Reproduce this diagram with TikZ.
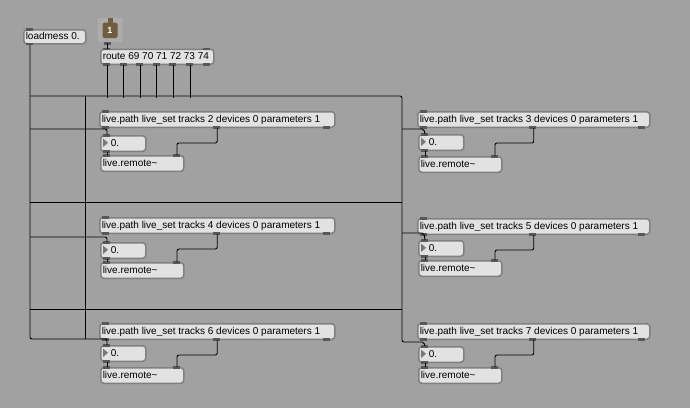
\documentclass[tikz,border=0pt]{standalone}
\usepackage{fontspec}
\setmainfont{Liberation Sans}
\usetikzlibrary{calc}
\definecolor{bg}{RGB}{161,161,161}
\definecolor{boxfill}{RGB}{226,226,226}
\definecolor{boxedge}{RGB}{128,128,128}
\definecolor{tabc}{RGB}{88,88,88}
\definecolor{brownbox}{RGB}{112,93,64}
\definecolor{tileback}{RGB}{172,172,172}
\definecolor{tri}{RGB}{120,120,120}
\tikzset{
  obj/.style={draw=boxedge, fill=boxfill, line width=1.5pt, rounded corners=3pt,
    inner xsep=2pt, inner ysep=0pt, anchor=north west,
    font=\fontsize{10}{11}\selectfont, text height=7.5pt, text depth=2pt},
  cord/.style={black, line width=0.9pt, rounded corners=2pt},
  tab/.style={fill=tabc}
}
% \mxobj{name}{x}{y}{width}{height}{text}
\newcommand\mxobj[6]{%
  \pgfmathsetmacro\tw{#4-4}%
  \node[obj, minimum height=#5pt] (#1) at (#2,#3) {\makebox[\tw pt][l]{#6}};}
\newcommand\mxin[2]{\fill[tab] ($(#1.north west)+(#2,-0.8)$) rectangle +(7,2.6);}
\newcommand\mxout[2]{\fill[tab] ($(#1.south west)+(#2,0.8)$) rectangle +(7,-2.6);}
\begin{document}
\begin{tikzpicture}[x=1pt,y=-1pt]
\fill[bg] (0,0) rectangle (690,408);
\useasboundingbox (0,0) rectangle (690,408);

\coordinate (a) at (30,96);
\coordinate (b) at (402,96);
% ---------- objects ----------
\mxobj{lm}{23}{29}{62}{14}{loadmess 0.}
\node[fill=tileback, rounded corners=2pt, minimum width=25pt, minimum height=24pt, anchor=north west] (tile) at (97.5,18) {};
\fill[brownbox, rounded corners=1.5pt] (102.5,22.5) rectangle (117.5,38);
\fill[brownbox] (107.5,17.5) rectangle (112.5,23);
\node[text=white, font=\fontsize{9}{9}\selectfont\bfseries] (one) at (110,30.5) {1};
\mxobj{rt}{100}{48.5}{113}{15}{route 69 70 71 72 73 74}

\foreach \n/\x/\lpy/\nby/\rmy/\w/\t in {
   L1/99/111/135/155/235/2, L2/99/217/242/262/235/4, L3/99/323/345/367/235/6,
   R1/417/111/134/156/232/3, R2/417/218/240/260/232/5, R3/417/323/346/367/232/7}{
  \mxobj{lp\n}{\x}{\lpy}{\w}{15.5}{live.path live\_set tracks \t\ devices 0 parameters 1}
  \mxobj{nb\n}{\x+1}{\nby}{45}{15.5}{\hspace*{8pt}0.}
  \fill[tri] ($(nb\n.north west)+(3,3.5)$) -- ++(5,4.3) -- ++(-5,4.3) -- cycle;
  \mxobj{rm\n}{\x+1}{\rmy}{83}{15.5}{live.remote\textasciitilde}
  \mxin{lp\n}{3} \mxout{lp\n}{3} \mxout{lp\n}{\w/2-4} \mxout{lp\n}{\w-11}
  \mxin{nb\n}{3} \mxout{nb\n}{3}
  \mxin{rm\n}{3} \mxin{rm\n}{73}
  \coordinate (nbin\n) at ($(nb\n.north west)+(7,0)$);
  \coordinate (nbout\n) at ($(nb\n.south west)+(7,0)$);
  \coordinate (rmin\n) at ($(rm\n.north west)+(7,0)$);
  \coordinate (rmin2\n) at ($(rm\n.north west)+(77,0)$);
  \draw[cord] (lp\n.south) -- ++(0,15) -| (rmin2\n);
  \draw[cord] (nbout\n) -- (rmin\n);
}
\mxin{lm}{3} \mxout{lm}{3}
\mxin{rt}{3} \mxin{rt}{103}
\foreach \i in {0,...,6}{\mxout{rt}{3+16.6*\i}}
\fill[tab] (103.5,42) rectangle (110.5,44.5);

% ---------- cords ----------
\coordinate (lmout) at ($(lm.south west)+(7,0)$);
\coordinate (tileout) at (107,43);
\draw[cord] (tileout) -- ($(rt.north west)+(7,0)$);
\foreach \i in {0,...,5}{
  \draw[cord] ($(rt.south west)+(7+16.6*\i,0)$) -- +(0,32.5);}
\draw[cord] (lmout) -- (30,339) -- (107,339) -- (nbinL3);
\draw[cord] (a) -- (b) -- (402,342) -- (424,342) -- (nbinR3);
\draw[cord] (85,96) -- (85,339);
\draw[cord] (30,129) -- (107,129) -- (nbinL1);
\draw[cord] (30,237) -- (107,237) -- (nbinL2);
\draw[cord] (30,202) -- (402,202);
\draw[cord] (30,309) -- (402,309);
\draw[cord] (402,129) -- (424,129) -- (nbinR1);
\draw[cord] (402,233) -- (424,233) -- (nbinR2);
\end{tikzpicture}
\end{document}
